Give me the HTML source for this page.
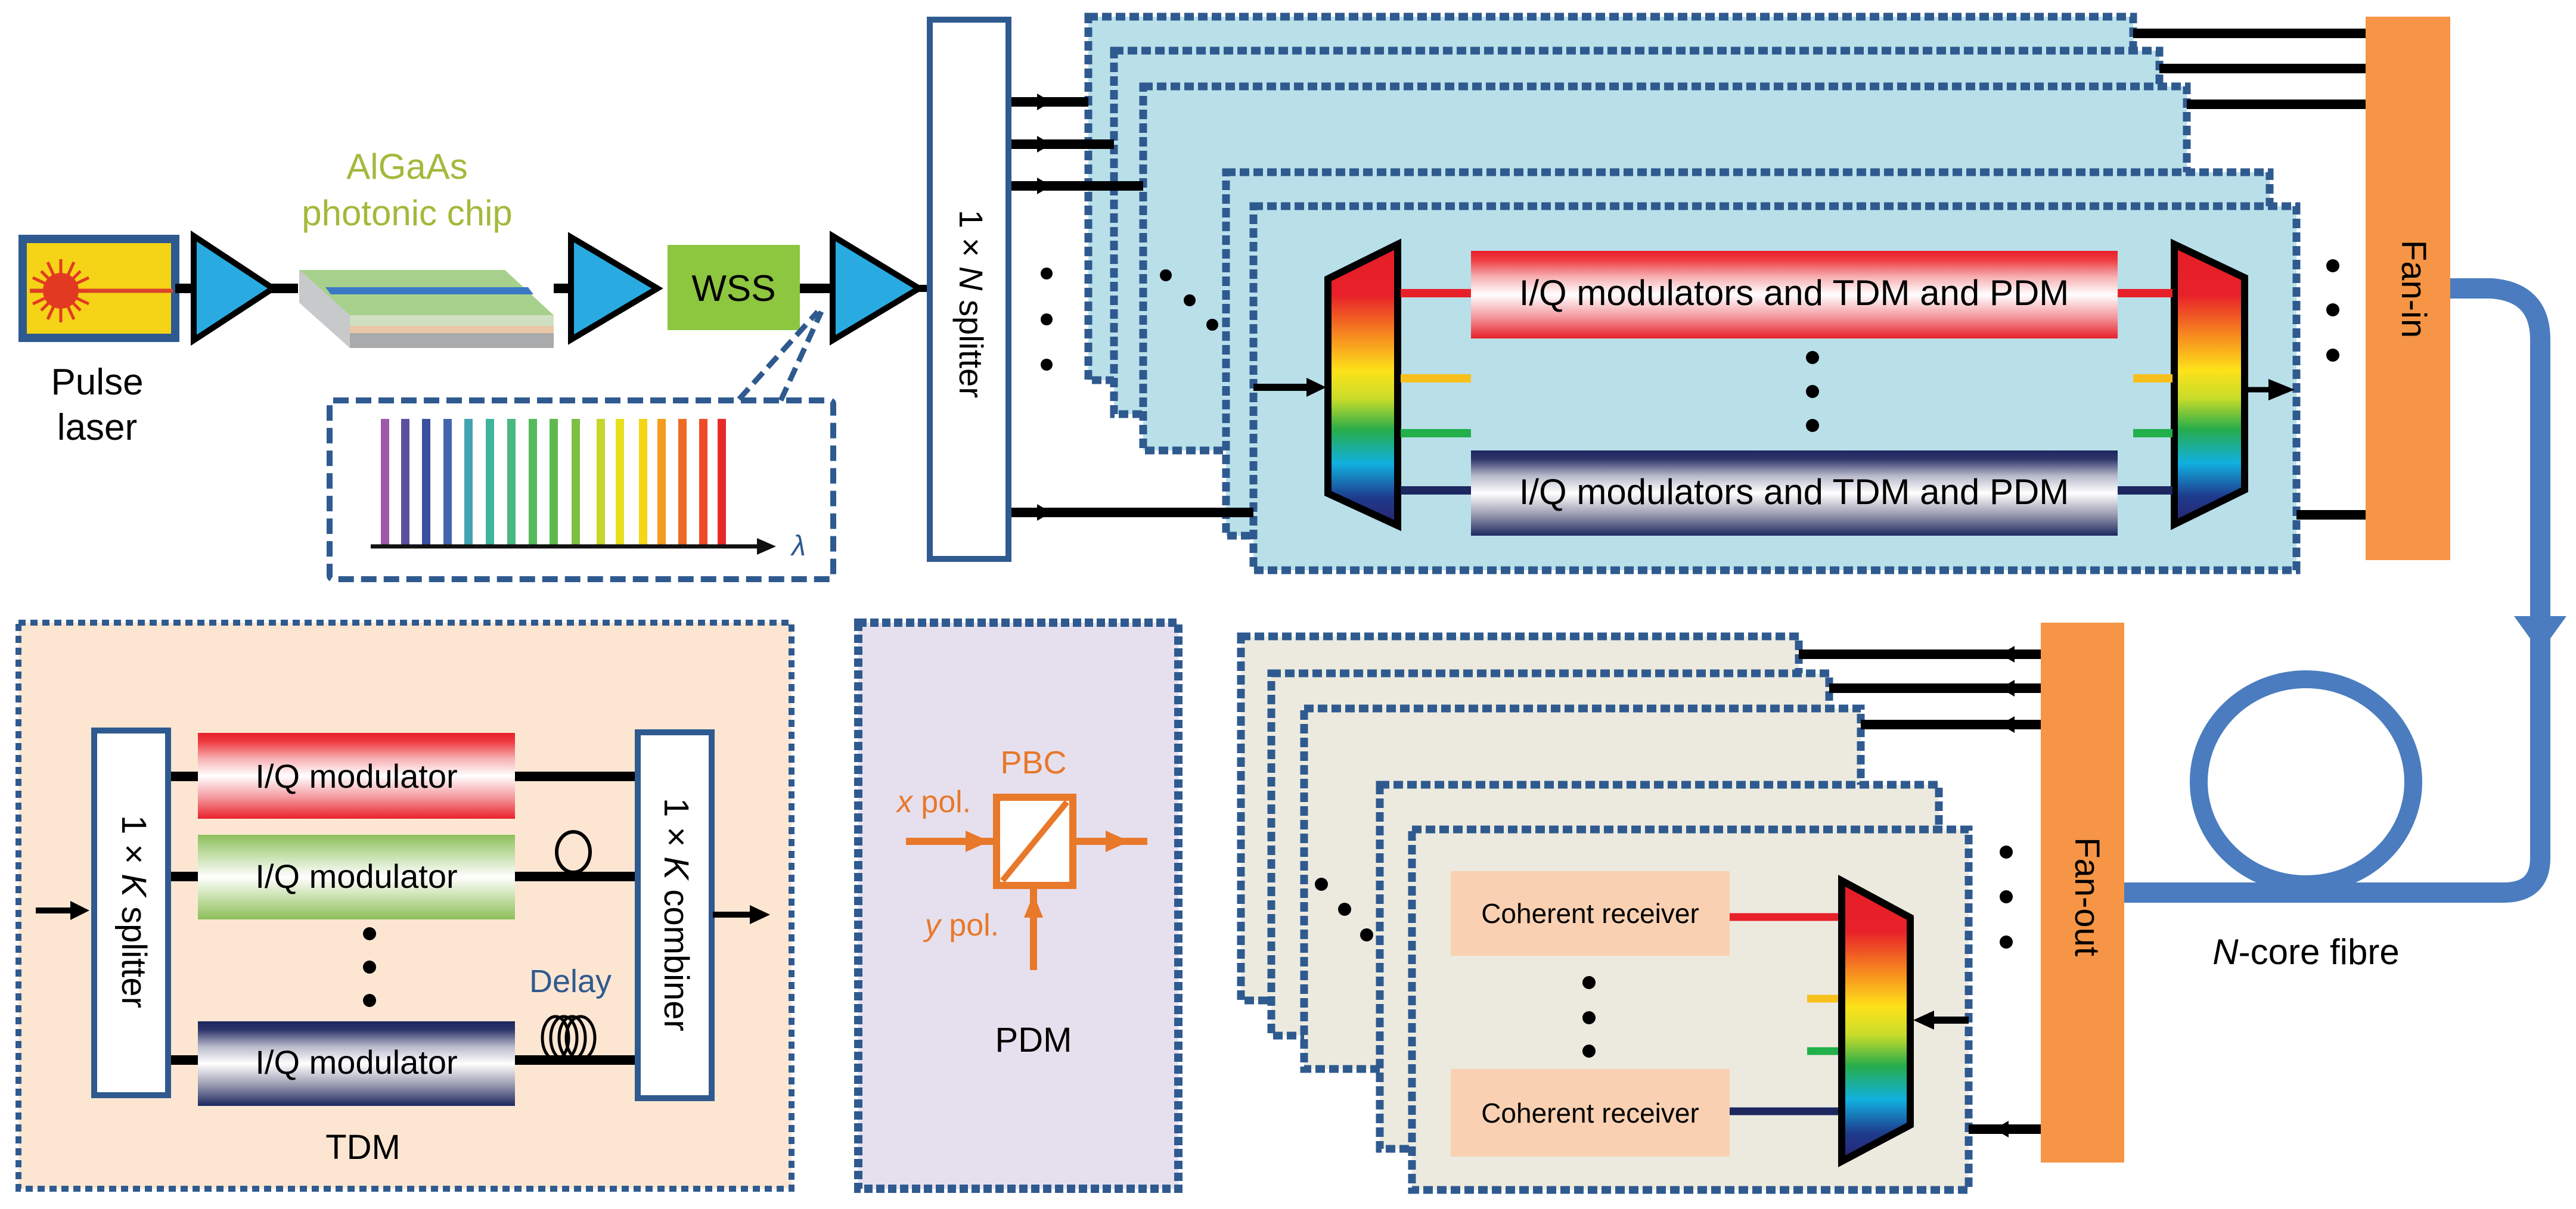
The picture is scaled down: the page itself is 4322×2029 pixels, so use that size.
<!DOCTYPE html>
<html><head><meta charset="utf-8"><style>html,body{margin:0;padding:0;background:#fff}svg{display:block}text{font-family:"Liberation Sans",sans-serif}</style></head><body>
<svg width="4322" height="2029" viewBox="0 0 4322 2029" xmlns="http://www.w3.org/2000/svg">
<defs>
<linearGradient id="rb" x1="0" y1="0" x2="0" y2="1">
<stop offset="0" stop-color="#e41e26"/><stop offset="0.18" stop-color="#e8202a"/><stop offset="0.32" stop-color="#f6861f"/><stop offset="0.45" stop-color="#fde21a"/><stop offset="0.55" stop-color="#c8dc2a"/><stop offset="0.66" stop-color="#27ac4a"/><stop offset="0.78" stop-color="#11b0e0"/><stop offset="0.9" stop-color="#1e3b8c"/><stop offset="1" stop-color="#2b2270"/></linearGradient>
<linearGradient id="gr" x1="0" y1="0" x2="0" y2="1"><stop offset="0" stop-color="#e8202a"/><stop offset="0.1" stop-color="#ee3a40"/><stop offset="0.3" stop-color="#f7b0b3"/><stop offset="0.5" stop-color="#fff"/><stop offset="0.75" stop-color="#f49aa0"/><stop offset="1" stop-color="#e8202a"/></linearGradient>
<linearGradient id="gn" x1="0" y1="0" x2="0" y2="1"><stop offset="0" stop-color="#1d2760"/><stop offset="0.1" stop-color="#2d356a"/><stop offset="0.3" stop-color="#b8bacb"/><stop offset="0.5" stop-color="#fff"/><stop offset="0.75" stop-color="#9a9cb0"/><stop offset="1" stop-color="#1d2760"/></linearGradient>
<linearGradient id="gg" x1="0" y1="0" x2="0" y2="1"><stop offset="0" stop-color="#8cbf5a"/><stop offset="0.3" stop-color="#d2e6be"/><stop offset="0.5" stop-color="#fff"/><stop offset="0.75" stop-color="#c5dfa8"/><stop offset="1" stop-color="#8cbf5a"/></linearGradient>
<marker id="ah" markerWidth="4" markerHeight="4" refX="3" refY="2" orient="auto" markerUnits="strokeWidth"><path d="M0,0 L4,2 L0,4 Z" fill="#000"/></marker>
</defs>

<!-- Laser -->
<rect x="38" y="401" width="256" height="166" fill="#f5d316" stroke="#2f5a8f" stroke-width="14"/>
<line x1="50" y1="488" x2="290" y2="488" stroke="#d9452a" stroke-width="7"/>
<circle cx="102" cy="488" r="30" fill="#e23a22"/>
<g stroke="#e23a22" stroke-width="5">
<line x1="102" y1="435" x2="102" y2="541"/><line x1="55" y1="488" x2="149" y2="488"/>
<line x1="69" y1="455" x2="135" y2="521"/><line x1="135" y1="455" x2="69" y2="521"/>
<line x1="80" y1="440" x2="124" y2="536"/><line x1="124" y1="440" x2="80" y2="536"/>
<line x1="55" y1="466" x2="149" y2="510"/><line x1="149" y1="466" x2="55" y2="510"/></g>
<text x="163" y="662" font-size="62" text-anchor="middle">Pulse</text>
<text x="163" y="738" font-size="62" text-anchor="middle">laser</text>

<!-- main line -->
<line x1="294" y1="484" x2="500" y2="484" stroke="#000" stroke-width="16"/>
<line x1="929" y1="484" x2="960" y2="484" stroke="#000" stroke-width="16"/>
<line x1="1340" y1="484" x2="1400" y2="484" stroke="#000" stroke-width="16"/>
<polygon points="325,396 325,571 458,484" fill="#29abe2" stroke="#000" stroke-width="10"/>
<polygon points="958,398 958,570 1103,484" fill="#29abe2" stroke="#000" stroke-width="10"/>
<polygon points="1397,396 1397,571 1542,484" fill="#29abe2" stroke="#000" stroke-width="10"/>
<line x1="1542" y1="484" x2="1555" y2="484" stroke="#000" stroke-width="12"/>

<!-- chip -->
<polygon points="502,453 587,529 587,584 502,508" fill="#c8c9cb"/>
<rect x="587" y="529" width="342" height="18" fill="#cfe0c0"/>
<rect x="587" y="547" width="342" height="12" fill="#e9c7a7"/>
<rect x="587" y="559" width="342" height="25" fill="#a9aaac"/>
<polygon points="502,453 847,453 929,529 587,529" fill="#a8d08d"/>
<polygon points="546,482 886,482 895,494 555,494" fill="#3a78c3"/>
<text x="683" y="300" font-size="60" text-anchor="middle" fill="#a5b83a">AlGaAs</text>
<text x="683" y="378" font-size="60" text-anchor="middle" fill="#a5b83a">photonic chip</text>

<!-- WSS -->
<rect x="1120" y="411" width="222" height="143" fill="#8dc63f"/>
<text x="1231" y="505" font-size="62" text-anchor="middle">WSS</text>

<!-- spectrum -->
<line x1="1240" y1="670" x2="1372" y2="523" stroke="#2f5a8f" stroke-width="9" stroke-dasharray="24 12"/>
<line x1="1310" y1="672" x2="1378" y2="523" stroke="#2f5a8f" stroke-width="9" stroke-dasharray="24 12"/>
<rect x="553" y="672" width="845" height="300" fill="none" stroke="#2f5a8f" stroke-width="10" stroke-dasharray="26 12" rx="6"/>
<g stroke-width="14">
<line x1="646" y1="703" x2="646" y2="915" stroke="#9b59a8"/>
<line x1="680" y1="703" x2="680" y2="915" stroke="#5e4ea0"/>
<line x1="715" y1="703" x2="715" y2="915" stroke="#3a4fa0"/>
<line x1="751" y1="703" x2="751" y2="915" stroke="#4365ad"/>
<line x1="786" y1="703" x2="786" y2="915" stroke="#44a3b3"/>
<line x1="822" y1="703" x2="822" y2="915" stroke="#3fb59e"/>
<line x1="858" y1="703" x2="858" y2="915" stroke="#48b780"/>
<line x1="894" y1="703" x2="894" y2="915" stroke="#56ba5c"/>
<line x1="929" y1="703" x2="929" y2="915" stroke="#5eba4e"/>
<line x1="966" y1="703" x2="966" y2="915" stroke="#7dbf44"/>
<line x1="1008" y1="703" x2="1008" y2="915" stroke="#c6d62d"/>
<line x1="1040" y1="703" x2="1040" y2="915" stroke="#e8df20"/>
<line x1="1079" y1="703" x2="1079" y2="915" stroke="#f5d614"/>
<line x1="1110" y1="703" x2="1110" y2="915" stroke="#f39c1e"/>
<line x1="1145" y1="703" x2="1145" y2="915" stroke="#ef6a24"/>
<line x1="1180" y1="703" x2="1180" y2="915" stroke="#ef4b26"/>
<line x1="1211" y1="703" x2="1211" y2="915" stroke="#e52a2a"/></g>
<line x1="622" y1="917" x2="1270" y2="917" stroke="#111" stroke-width="7"/>
<polygon points="1270,903 1302,917 1270,931" fill="#111"/>
<text x="1340" y="932" font-size="48" font-style="italic" fill="#2f5a8f" text-anchor="middle">λ</text>

<!-- N splitter -->
<rect x="1560" y="33" width="132" height="905" fill="#fff" stroke="#2f5a8f" stroke-width="10"/>
<text transform="translate(1610,510) rotate(90)" font-size="56" text-anchor="middle">1 × <tspan font-style="italic">N</tspan> splitter</text>
<g fill="#000"><circle cx="1756" cy="459" r="10"/><circle cx="1756" cy="536" r="10"/><circle cx="1756" cy="612" r="10"/></g>

<!-- Tx cards -->
<g fill="#b9dfe9" stroke="#2f5a8f" stroke-width="13" stroke-dasharray="16 7">
<rect x="1826" y="28" width="1753" height="610"/>
<rect x="1869" y="85" width="1754" height="610"/>
<rect x="1918" y="145" width="1751" height="611"/>
<rect x="2057" y="289" width="1751" height="610"/>
<rect x="2103" y="346" width="1750" height="611"/></g>
<g fill="#000"><circle cx="1956" cy="462" r="10"/><circle cx="1996" cy="504" r="10"/><circle cx="2034" cy="545" r="10"/></g>
<g stroke="#000" stroke-width="16">
<line x1="1697" y1="171" x2="1826" y2="171"/><line x1="1697" y1="242" x2="1869" y2="242"/><line x1="1697" y1="312" x2="1918" y2="312"/><line x1="1697" y1="860" x2="2103" y2="860"/>
<line x1="3579" y1="56" x2="3970" y2="56"/><line x1="3623" y1="115" x2="3970" y2="115"/><line x1="3669" y1="175" x2="3970" y2="175"/><line x1="3853" y1="864" x2="3970" y2="864"/></g>
<g fill="#000"><polygon points="1740,157 1764,171 1740,185"/><polygon points="1740,228 1764,242 1740,256"/><polygon points="1740,298 1764,312 1740,326"/><polygon points="1740,846 1764,860 1740,874"/></g>
<!-- demux/mux -->
<line x1="2103" y1="650" x2="2200" y2="650" stroke="#000" stroke-width="12"/><polygon points="2192,634 2225,650 2192,666" fill="#000"/>
<polygon points="2345,410 2228,468 2228,828 2345,882" fill="url(#rb)" stroke="#000" stroke-width="12"/>
<polygon points="3648,410 3766,466 3766,822 3648,880" fill="url(#rb)" stroke="#000" stroke-width="12"/>
<line x1="3770" y1="654" x2="3830" y2="654" stroke="#000" stroke-width="9"/><polygon points="3806,636 3850,654 3806,672" fill="#000"/>
<g stroke-width="14">
<line x1="2350" y1="492" x2="2468" y2="492" stroke="#e8202a"/><line x1="3553" y1="492" x2="3645" y2="492" stroke="#e8202a"/>
<line x1="2350" y1="635" x2="2468" y2="635" stroke="#f8c01c"/><line x1="3579" y1="635" x2="3645" y2="635" stroke="#f8c01c"/>
<line x1="2350" y1="727" x2="2468" y2="727" stroke="#22b04b"/><line x1="3579" y1="727" x2="3645" y2="727" stroke="#22b04b"/>
<line x1="2350" y1="823" x2="2468" y2="823" stroke="#1d2760"/><line x1="3553" y1="823" x2="3645" y2="823" stroke="#1d2760"/></g>
<rect x="2468" y="421" width="1085" height="147" fill="url(#gr)"/>
<rect x="2468" y="756" width="1085" height="143" fill="url(#gn)"/>
<text x="3010" y="512" font-size="60" text-anchor="middle">I/Q modulators and TDM and PDM</text>
<text x="3010" y="846" font-size="60" text-anchor="middle">I/Q modulators and TDM and PDM</text>
<g fill="#000"><circle cx="3041" cy="600" r="11"/><circle cx="3041" cy="657" r="11"/><circle cx="3041" cy="714" r="11"/>
<circle cx="3914" cy="446" r="11"/><circle cx="3914" cy="520" r="11"/><circle cx="3914" cy="596" r="11"/></g>

<!-- Fan-in -->
<rect x="3969" y="28" width="142" height="912" fill="#f59545"/>
<text transform="translate(4030,485) rotate(90)" font-size="58" text-anchor="middle">Fan-in</text>

<!-- fibre -->
<path d="M4111,484 L4180,484 Q4262,490 4262,570 L4262,1440 Q4262,1498 4200,1498 L3564,1498" fill="none" stroke="#4a7cbf" stroke-width="34"/>
<polygon points="4218,1034 4306,1034 4262,1095" fill="#4a7cbf"/>
<ellipse cx="3869" cy="1312" rx="180" ry="172" fill="none" stroke="#4a7cbf" stroke-width="30"/>
<text x="3869" y="1618" font-size="60" text-anchor="middle"><tspan font-style="italic">N</tspan>-core fibre</text>

<!-- Fan-out -->
<rect x="3424" y="1045" width="140" height="906" fill="#f59545"/>
<text transform="translate(3482,1505) rotate(90)" font-size="58" text-anchor="middle">Fan-out</text>

<!-- Rx cards -->
<g fill="#eceadf" stroke="#2f5a8f" stroke-width="13" stroke-dasharray="16 7">
<rect x="2082" y="1068" width="936" height="611"/>
<rect x="2133" y="1130" width="936" height="608"/>
<rect x="2188" y="1189" width="934" height="605"/>
<rect x="2315" y="1317" width="938" height="611"/>
<rect x="2369" y="1392" width="934" height="605"/></g>
<g fill="#000"><circle cx="2217" cy="1484" r="11"/><circle cx="2256" cy="1526" r="11"/><circle cx="2293" cy="1569" r="11"/>
<circle cx="2666" cy="1649" r="11"/><circle cx="2666" cy="1708" r="11"/><circle cx="2666" cy="1764" r="11"/>
<circle cx="3366" cy="1430" r="11"/><circle cx="3366" cy="1505" r="11"/><circle cx="3366" cy="1581" r="11"/></g>
<g stroke="#000" stroke-width="16">
<line x1="3018" y1="1098" x2="3424" y2="1098"/><line x1="3069" y1="1155" x2="3424" y2="1155"/><line x1="3122" y1="1216" x2="3424" y2="1216"/><line x1="3303" y1="1895" x2="3424" y2="1895"/></g>
<g fill="#000"><polygon points="3380,1084 3356,1098 3380,1112"/><polygon points="3380,1141 3356,1155 3380,1169"/><polygon points="3380,1202 3356,1216 3380,1230"/><polygon points="3370,1881 3346,1895 3370,1909"/></g>
<rect x="2434" y="1462" width="468" height="142" fill="#f9d1b2"/>
<rect x="2434" y="1794" width="468" height="147" fill="#f9d1b2"/>
<text x="2668" y="1549" font-size="46" text-anchor="middle">Coherent receiver</text>
<text x="2668" y="1884" font-size="46" text-anchor="middle">Coherent receiver</text>
<g stroke-width="13">
<line x1="2902" y1="1539" x2="3086" y2="1539" stroke="#e8202a"/>
<line x1="3032" y1="1676" x2="3086" y2="1676" stroke="#f8c01c"/>
<line x1="3032" y1="1764" x2="3086" y2="1764" stroke="#22b04b"/>
<line x1="2902" y1="1865" x2="3086" y2="1865" stroke="#1d2760"/></g>
<polygon points="3090,1478 3205,1540 3205,1888 3090,1949" fill="url(#rb)" stroke="#000" stroke-width="12"/>
<line x1="3303" y1="1712" x2="3240" y2="1712" stroke="#000" stroke-width="12"/><polygon points="3245,1696 3210,1712 3245,1728" fill="#000"/>

<!-- TDM -->
<rect x="31" y="1045" width="1297" height="950" fill="#fce6d2" stroke="#2f5a8f" stroke-width="10" stroke-dasharray="12 8"/>
<g stroke="#000" stroke-width="16">
<line x1="284" y1="1303" x2="332" y2="1303"/><line x1="284" y1="1471" x2="332" y2="1471"/><line x1="284" y1="1779" x2="332" y2="1779"/>
<line x1="864" y1="1303" x2="1067" y2="1303"/><line x1="864" y1="1471" x2="1067" y2="1471"/><line x1="864" y1="1779" x2="1067" y2="1779"/></g>
<ellipse cx="962" cy="1430" rx="28" ry="34" fill="none" stroke="#000" stroke-width="6"/>
<g fill="none" stroke="#000" stroke-width="5"><ellipse cx="932" cy="1742" rx="22" ry="36"/><ellipse cx="946" cy="1742" rx="22" ry="36"/><ellipse cx="960" cy="1742" rx="22" ry="36"/><ellipse cx="974" cy="1742" rx="24" ry="36"/></g>
<rect x="158" y="1226" width="124" height="612" fill="#fff" stroke="#2f5a8f" stroke-width="10"/>
<rect x="1070" y="1229" width="124" height="614" fill="#fff" stroke="#2f5a8f" stroke-width="10"/>
<text transform="translate(205,1530) rotate(90)" font-size="58" text-anchor="middle">1 × <tspan font-style="italic">K</tspan> splitter</text>
<text transform="translate(1115,1535) rotate(90)" font-size="58" text-anchor="middle">1 × <tspan font-style="italic">K</tspan> combiner</text>
<rect x="332" y="1230" width="532" height="144" fill="url(#gr)"/>
<rect x="332" y="1401" width="532" height="142" fill="url(#gg)"/>
<rect x="332" y="1714" width="532" height="142" fill="url(#gn)"/>
<text x="598" y="1322" font-size="56" text-anchor="middle">I/Q modulator</text>
<text x="598" y="1490" font-size="56" text-anchor="middle">I/Q modulator</text>
<text x="598" y="1802" font-size="56" text-anchor="middle">I/Q modulator</text>
<g fill="#000"><circle cx="620" cy="1567" r="11"/><circle cx="620" cy="1623" r="11"/><circle cx="620" cy="1679" r="11"/></g>
<text x="957" y="1665" font-size="54" text-anchor="middle" fill="#2f5a8f">Delay</text>
<line x1="60" y1="1528" x2="125" y2="1528" stroke="#000" stroke-width="10"/><polygon points="118,1512 150,1528 118,1544" fill="#000"/>
<line x1="1196" y1="1535" x2="1262" y2="1535" stroke="#000" stroke-width="10"/><polygon points="1258,1519 1292,1535 1258,1551" fill="#000"/>
<text x="609" y="1945" font-size="58" text-anchor="middle">TDM</text>

<!-- PDM -->
<rect x="1440" y="1045" width="537" height="950" fill="#e6e0ee" stroke="#2f5a8f" stroke-width="14" stroke-dasharray="14 6"/>
<line x1="1520" y1="1412" x2="1670" y2="1412" stroke="#e8782a" stroke-width="12"/>
<polygon points="1620,1394 1660,1412 1620,1430" fill="#e8782a"/>
<line x1="1801" y1="1412" x2="1925" y2="1412" stroke="#e8782a" stroke-width="12"/>
<polygon points="1855,1394 1895,1412 1855,1430" fill="#e8782a"/>
<line x1="1734" y1="1487" x2="1734" y2="1628" stroke="#e8782a" stroke-width="12"/>
<polygon points="1718,1540 1734,1500 1750,1540" fill="#e8782a"/>
<rect x="1672" y="1338" width="128" height="148" fill="#fff" stroke="#e8782a" stroke-width="12"/>
<line x1="1682" y1="1478" x2="1790" y2="1346" stroke="#e8782a" stroke-width="10"/>
<text x="1734" y="1298" font-size="54" text-anchor="middle" fill="#e8782a">PBC</text>
<text x="1567" y="1363" font-size="52" text-anchor="middle" fill="#e8782a"><tspan font-style="italic">x</tspan> pol.</text>
<text x="1614" y="1570" font-size="52" text-anchor="middle" fill="#e8782a"><tspan font-style="italic">y</tspan> pol.</text>
<text x="1734" y="1765" font-size="58" text-anchor="middle">PDM</text>
</svg>
</body></html>
